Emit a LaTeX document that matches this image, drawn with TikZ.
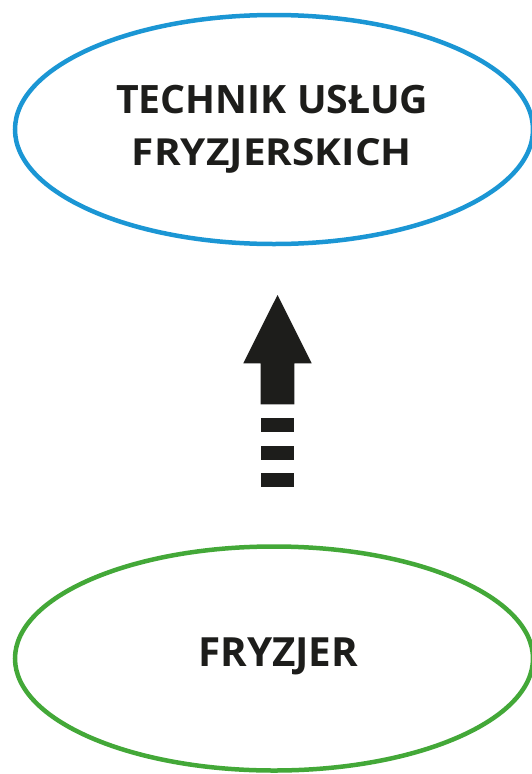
\documentclass[tikz,border=0pt]{standalone}
\usepackage{fontspec}
\usepackage{graphicx}
\setmainfont{Open Sans}
\usetikzlibrary{shapes.geometric}
\definecolor{techblue}{RGB}{27,150,212}
\definecolor{fryzgreen}{RGB}{67,168,56}
\definecolor{inkdark}{RGB}{29,29,27}
\tikzset{
  oval/.style={draw, ellipse, line width=4.5pt, minimum width=518pt, minimum height=229pt, inner sep=0pt},
  label/.style={font=\bfseries\fontsize{40}{52}\selectfont, text=inkdark, anchor=base west, inner sep=0pt},
  arrowpart/.style={fill=inkdark, draw=none}
}
\begin{document}
\begin{tikzpicture}[x=1pt,y=-1pt]
\useasboundingbox (0,0) rectangle (531,774);
\node[oval, draw=techblue] (top) at (274,129.5) {};
\node[oval, draw=fryzgreen, minimum height=224pt] (bottom) at (274,658.5) {};
\node[label] (toptextA) at (116,113.3) {\resizebox{312pt}{28.3pt}{TECHNIK USŁUG}};
\node[label] (toptextB) at (131.7,165) {\resizebox{280pt}{27pt}{FRYZJERSKICH}};
\node[label] (bottomtext) at (198,666.7) {\resizebox{160pt}{28.7pt}{FRYZJER}};
% arrow
\coordinate (apex) at (277.5,295);
\fill[arrowpart] (apex) -- (311.7,363.3) -- (294.3,363.3) -- (294.3,404.3) -- (260.7,404.3) -- (260.7,363.3) -- (243.3,363.3) -- cycle;
\fill[arrowpart] (260.7,418.3) rectangle (294.3,432.3);
\fill[arrowpart] (260.7,445.7) rectangle (294.3,460);
\fill[arrowpart] (260.7,473.3) rectangle (294.3,487.3);
\end{tikzpicture}
\end{document}
